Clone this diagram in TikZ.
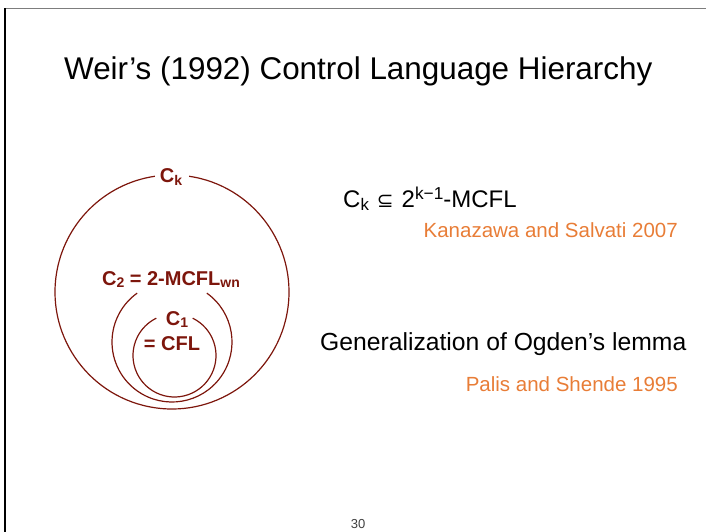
\documentclass[tikz,border=0pt]{standalone}
\usepackage{fontspec}
\setmainfont{Liberation Sans}
\newfontfamily\symfont{DejaVu Sans}
\definecolor{darkred}{RGB}{125,22,12}
\definecolor{cite}{RGB}{232,125,55}
\definecolor{framegray}{RGB}{125,125,125}
\newcommand\lowsub[1]{\raisebox{-0.25ex}{\scalebox{0.7}{#1}}}
\newcommand\highsup[1]{\raisebox{0.6ex}{\scalebox{0.72}{#1}}}
\begin{document}
\begin{tikzpicture}[x=1pt,y=-1pt,
  txt/.style={inner sep=0pt,anchor=base},
  lbl/.style={txt,text=darkred,font=\bfseries\fontsize{20}{24}\selectfont},
  ring/.style={draw=darkred,line width=1.2pt},
  cite/.style={txt,anchor=base east,text=cite,font=\fontsize{20.5}{24}\selectfont}]
\useasboundingbox (0,0) rectangle (706,532);
% frame
\draw[framegray,line width=1.6pt] (5,8.5) -- (706,8.5);
\draw[black,line width=1.6pt] (5,8.5) -- (5,532);
% title
\node[txt,anchor=base west,font=\fontsize{31.4}{36}\selectfont] (title) at (64,79.5) {Weir’s (1992) Control Language Hierarchy};
% circles
\coordinate (ck) at (172,292);
\coordinate (c2) at (172,342);
\coordinate (c1) at (174.5,355.5);
\draw[ring] (ck) ++(-81.6:117) arc[start angle=-81.6,end angle=261.6,radius=117];
\draw[ring] (c2) ++(-54.5:60) arc[start angle=-54.5,end angle=234.5,radius=60];
\draw[ring] (c1) ++(-64:41.5) arc[start angle=-64,end angle=244,radius=41.5];
% labels
\node[lbl] (lk) at (171,182.5) {C\lowsub{k}};
\node[lbl] (l2) at (171,285) {C\lowsub{2} = 2-MCFL\lowsub{wn}};
\node[lbl] (l1) at (177,325) {C\lowsub{1}};
\node[lbl] (l1b) at (172,350) {= CFL};
% right side
\node[txt,anchor=base west,font=\fontsize{24}{28}\selectfont] (claim) at (343,207) {C\lowsub{k}\hspace{8pt}{\symfont\fontsize{20}{24}\selectfont ⊆}\hspace{8pt}2\highsup{k−1}-MCFL};
\node[cite] (ks) at (678,237) {Kanazawa and Salvati 2007};
\node[txt,anchor=base west,font=\fontsize{24.7}{28}\selectfont] (ogden) at (320,350) {Generalization of Ogden’s lemma};
\node[cite] (ps) at (678,391) {Palis and Shende 1995};
% page number
\node[txt,text=black!75,font=\fontsize{13}{15}\selectfont] (page) at (358,528) {30};
\end{tikzpicture}
\end{document}
